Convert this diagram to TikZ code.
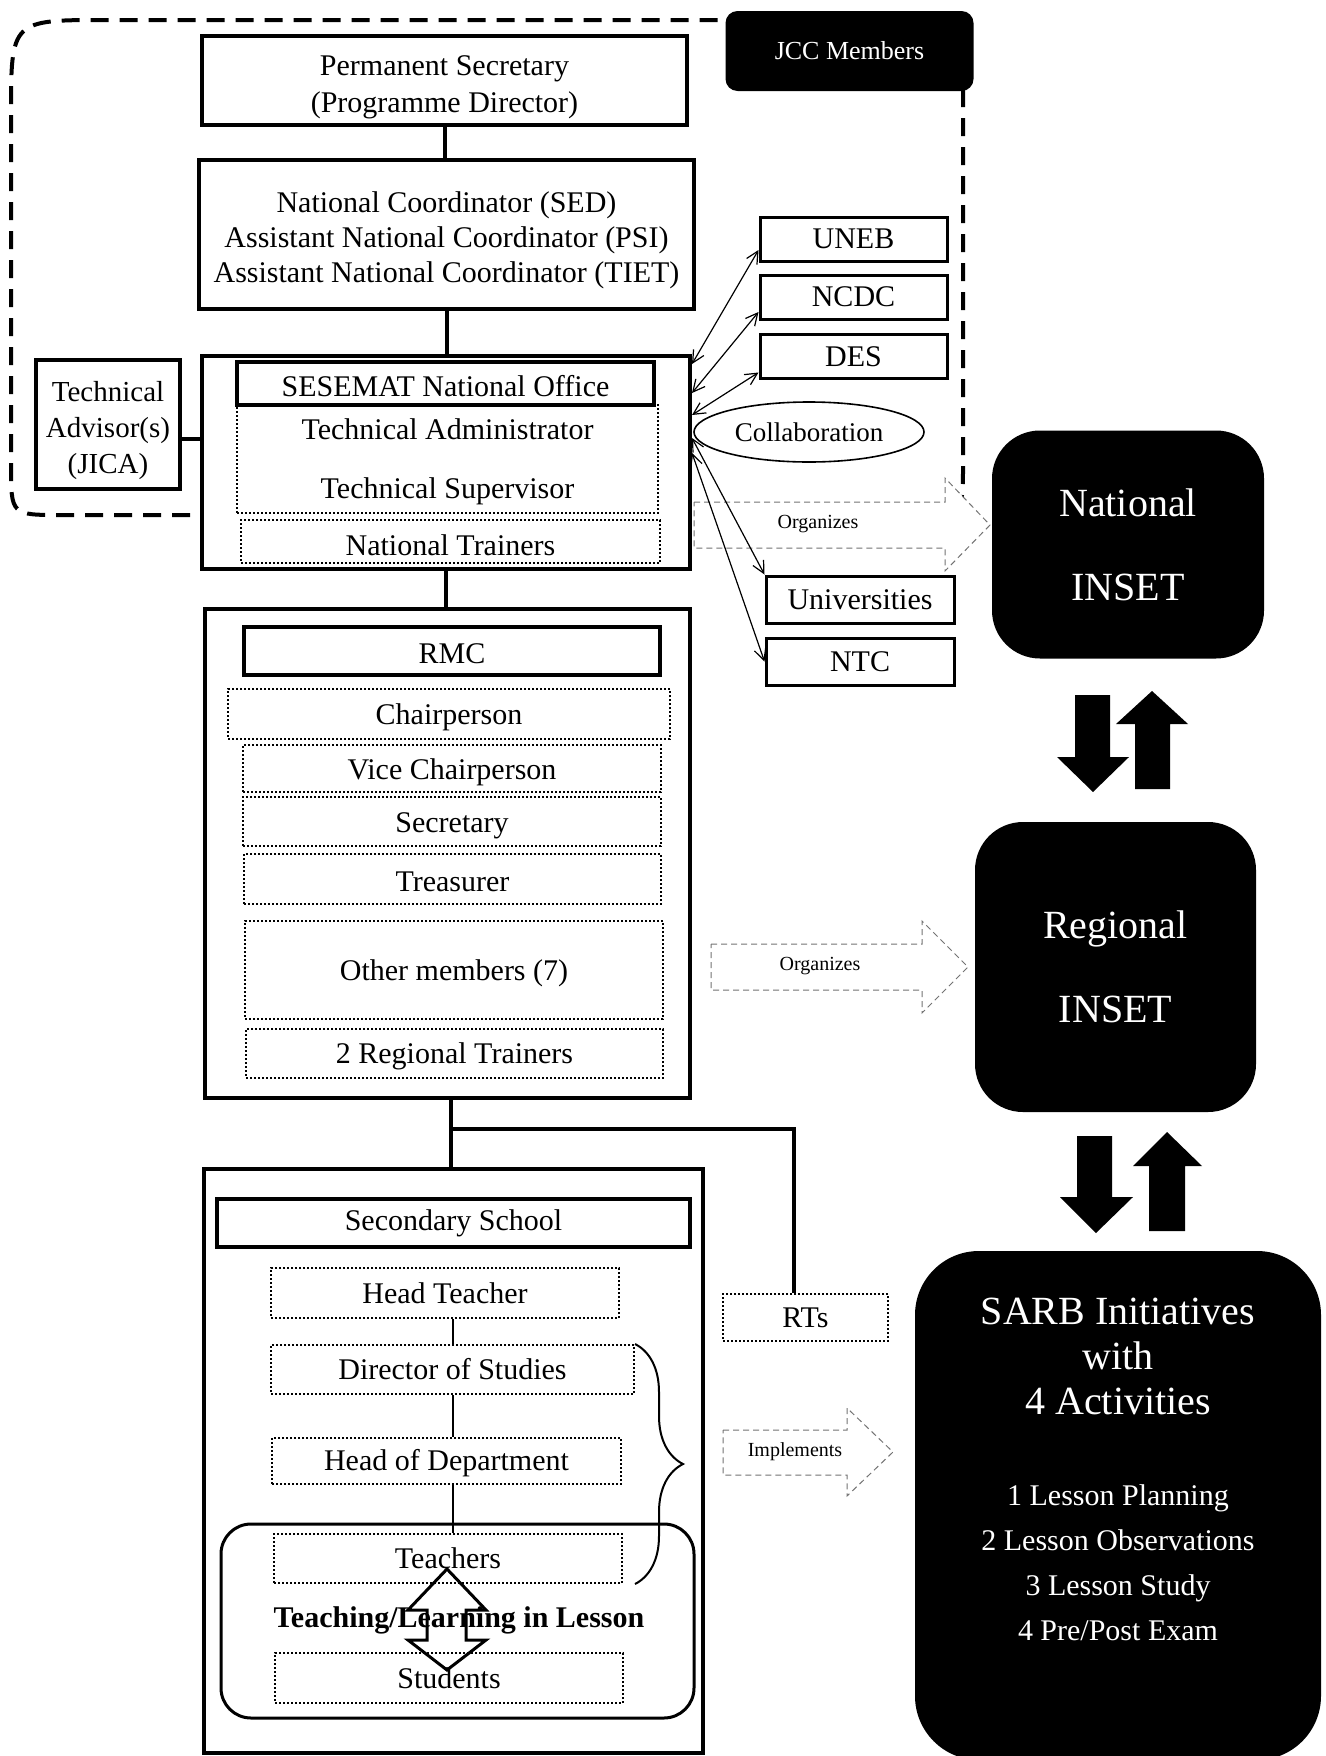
\documentclass[tikz,border=0pt]{standalone}
\usepackage{fontspec}
\setmainfont{Liberation Serif}
\usetikzlibrary{arrows.meta,shapes.geometric,decorations.pathreplacing}
\newcommand{\boxfont}{\fontsize{15pt}{17.5pt}\selectfont}
\newcommand{\notefont}{\fontsize{10pt}{12pt}\selectfont}
\newcommand{\insetfont}{\fontsize{20pt}{22.5pt}\selectfont}
\newcommand{\lift}[1]{\rule{0pt}{#1}}
\tikzset{
  frame/.style={draw,line width=2pt,fill=white,inner sep=0pt},
  hbox/.style={draw,line width=2pt,fill=white,inner sep=0pt,align=center,font=\boxfont},
  dbox/.style={draw,densely dotted,line width=1pt,inner sep=0pt,align=center,font=\boxfont},
  obox/.style={draw,line width=1.5pt,fill=white,inner sep=0pt,align=center,font=\boxfont},
  inset/.style={fill=black,text=white,rounded corners=24pt,inner sep=0pt,align=center,font=\insetfont},
  link/.style={line width=2pt},
  thinlink/.style={line width=1pt},
  collab/.style={{Straight Barb[length=6pt,width=6pt]}-{Straight Barb[length=6pt,width=6pt]},line width=0.6pt},
  hollow/.style={draw=black!55,densely dashed,line width=0.5pt,fill=white},
  solidarr/.style={fill=black},
  jccline/.style={line width=2pt,dash pattern=on 9pt off 5.5pt},
  note/.style={font=\notefont,inner sep=0pt},
}

\begin{document}
\begin{tikzpicture}[x=0.5pt,y=-0.5pt]
  \useasboundingbox (0,0) rectangle (1326,1756);
  \draw[jccline] (963,60) -- (963,465) .. controls (963,515) .. (913,515) -- (61,515)
    .. controls (11,515) .. (11,465) -- (11,115) .. controls (11,20) .. (106,20) -- (726,20);
  \node[fill=black,text=white,rounded corners=6pt,minimum width=124pt,minimum height=40pt,
    font=\fontsize{13pt}{15pt}\selectfont] (jcc) at (849.5,51) {JCC Members};

  \node[hbox,minimum width=242.5pt,minimum height=44.5pt,font=\fontsize{15pt}{18.5pt}\selectfont] (ps) at (444.5,80.5) {\lift{17pt}Permanent Secretary\\(Programme Director)};
  \node[hbox,minimum width=247.5pt,minimum height=74.5pt] (nc) at (446.5,234.5) {\lift{16.3pt}National Coordinator (SED)\\Assistant National Coordinator (PSI)\\Assistant National Coordinator (TIET)};
  \node[frame,minimum width=244pt,minimum height=106.5pt] (seso) at (446,462.5) {};
  \node[hbox,minimum width=208.5pt,minimum height=21.5pt] (sesoff) at (445.5,383.5) {\lift{13.6pt}SESEMAT National Office};
  \node[dbox,minimum width=210.5pt,minimum height=54pt] (tadm) at (447.5,459) {\lift{13.6pt}Technical Administrator\\[12pt]Technical Supervisor};
  \node[dbox,minimum width=209.5pt,minimum height=21.5pt] (ntr) at (450.5,541.5) {\lift{14.5pt}National Trainers};
  \node[hbox,minimum width=72pt,minimum height=64.5pt,font=\fontsize{14.5pt}{18pt}\selectfont] (tadv) at (108,424) {\lift{16.9pt}Technical\\Advisor(s)\\(JICA)};

  \node[obox,minimum width=93.5pt,minimum height=22pt] (uneb) at (853.5,239) {UNEB};
  \node[obox,minimum width=93.5pt,minimum height=22pt] (ncdc) at (853.5,297) {NCDC};
  \node[obox,minimum width=93.5pt,minimum height=22pt] (des) at (853.5,356.5) {DES};
  \node[draw,ellipse,line width=0.8pt,inner sep=0pt,minimum width=115pt,minimum height=30pt,
    font=\fontsize{13.5pt}{16pt}\selectfont] (collab) at (809,432) {Collaboration};
  \node[obox,minimum width=94pt,minimum height=23.5pt] (univ) at (860,599.5) {Universities};
  \node[obox,minimum width=94pt,minimum height=23.5pt] (ntc) at (860,661.5) {NTC};

  \draw[hollow] (694,502) -- (945,502) -- (945,478) -- (990,525) -- (945,571) -- (945,548) -- (694,548) -- cycle;
  \node[note] (orgnat) at (818,524) {Organizes};

  \draw[collab] ([yshift=-5pt]seso.north east) -- ([yshift=-5.5pt]uneb.west);
  \draw[collab] ([yshift=-19.5pt]seso.north east) -- ([yshift=-7.5pt]ncdc.west);
  \draw[collab] ([yshift=-30.5pt]seso.north east) -- ([yshift=-8pt]des.west);
  \draw[collab] ([yshift=-42pt]seso.north east) -- (univ.north west);
  \draw[collab] ([yshift=-49.5pt]seso.north east) -- (ntc.west);

  \node[inset,minimum width=136pt,minimum height=114pt] (natinset) at (1128,544.5) {National\\[19.5pt]INSET};
  \node[inset,minimum width=140.5pt,minimum height=145pt] (reginset) at (1115.5,967) {Regional\\[19.5pt]INSET};
  \node[inset,rounded corners=32pt,minimum width=203pt,minimum height=254.5pt] (sarb) at (1118,1505.5) {};
  \node[text=white,align=center,font=\insetfont,inner sep=0pt] (sarbtitle) at (1118,1356.5) {SARB Initiatives\\with\\4 Activities};
  \node[text=white,align=center,font=\fontsize{15pt}{22.5pt}\selectfont,inner sep=0pt] (sarbacts) at (1118,1562.5) {1 Lesson Planning\\2 Lesson Observations\\3 Lesson Study\\4 Pre/Post Exam};

  \fill[solidarr] (1075,695) -- (1110,695) -- (1110,757) -- (1129,757) -- (1093,792) -- (1057,757) -- (1075,757) -- cycle;
  \fill[solidarr] (1135,789) -- (1170,789) -- (1170,724) -- (1188,724) -- (1152,691) -- (1116,724) -- (1135,724) -- cycle;
  \fill[solidarr] (1077,1136) -- (1112,1136) -- (1112,1197) -- (1133,1197) -- (1096,1233) -- (1060,1197) -- (1077,1197) -- cycle;
  \fill[solidarr] (1149,1231) -- (1185,1231) -- (1185,1166) -- (1202,1166) -- (1167,1132) -- (1133,1166) -- (1149,1166) -- cycle;

  \node[frame,minimum width=242.5pt,minimum height=244.5pt] (rmc) at (447.5,853.5) {};
  \node[hbox,minimum width=208pt,minimum height=24pt] (rmchead) at (452,651) {\lift{12.5pt}RMC};
  \node[dbox,minimum width=221pt,minimum height=25pt] (chair) at (449,714) {\lift{13.6pt}Chairperson};
  \node[dbox,minimum width=209pt,minimum height=23.5pt] (vice) at (452,768.5) {\lift{14.5pt}Vice Chairperson};
  \node[dbox,minimum width=209pt,minimum height=24.5pt] (secr) at (452,821.5) {\lift{14.5pt}Secretary};
  \node[dbox,minimum width=208.5pt,minimum height=25pt] (treas) at (452.5,879) {\lift{12.5pt}Treasurer};
  \node[dbox,minimum width=209pt,minimum height=49pt] (others) at (454,970) {\lift{13.6pt}Other members (7)};
  \node[dbox,minimum width=208.5pt,minimum height=24.5pt] (rtrain) at (454.5,1053.5) {\lift{13.6pt}2 Regional Trainers};

  \draw[hollow] (711,944) -- (922,944) -- (922,921) -- (968,967) -- (922,1013) -- (922,990) -- (711,990) -- cycle;
  \node[note] (orgreg) at (820,966) {Organizes};

  \node[frame,minimum width=249.5pt,minimum height=292pt] (school) at (453.5,1461) {};
  \node[hbox,minimum width=236.5pt,minimum height=24pt] (sshead) at (453.5,1223) {Secondary School};
  \node[dbox,minimum width=174pt,minimum height=25pt] (htea) at (445,1293) {Head Teacher};
  \node[dbox,minimum width=181.5pt,minimum height=24.5pt] (dos) at (452.5,1369.5) {Director of Studies};
  \node[dbox,minimum width=174.5pt,minimum height=23pt] (hod) at (446.5,1461) {\lift{12.5pt}Head of Department};
  \node[draw,line width=1.5pt,rounded corners=15pt,minimum width=236.5pt,minimum height=97pt] (lesson) at (457.5,1621) {};
  \node[dbox,minimum width=174pt,minimum height=24.5pt] (tea) at (448,1558.5) {Teachers};
  \node[dbox,minimum width=174pt,minimum height=25pt] (stu) at (449,1678) {Students};
  \node[font=\boxfont\bfseries,inner sep=0pt] (tl) at (459,1620) {Teaching/Learning in Lesson};
  \node[dbox,minimum width=82.5pt,minimum height=23.5pt] (rts) at (805.5,1317.5) {RTs};

  \draw[hollow] (723,1430) -- (847,1430) -- (847,1408) -- (893,1452) -- (847,1496) -- (847,1475) -- (723,1475) -- cycle;
  \node[note] (impl) at (795,1452) {Implements};

  \draw[link] (ps.south) -- (ps.south |- nc.north);
  \draw[link] (nc.south) -- (nc.south |- seso.north);
  \draw[link] ([yshift=-7.5pt]tadv.east) -- ([yshift=-7.5pt]tadv.east -| seso.west);
  \draw[link] (seso.south) -- (seso.south |- rmc.north);
  \coordinate (split) at (451,1129);
  \draw[link] (split |- rmc.south) -- (split |- school.north);
  \draw[link] (split) -| ([xshift=-6pt]rts.north);
  \draw[thinlink] (dos.north |- htea.south) -- (dos.north);
  \draw[thinlink] (dos.south) -- (dos.south |- hod.north);
  \draw[thinlink] (hod.south -| dos.south) -- (tea.north -| dos.south);
  \draw[thinlink,decorate,decoration={brace,amplitude=24pt}] (dos.north east) -- (dos.north east |- tea.south);

  \draw[line width=1.5pt] (447,1569) -- (486,1610) -- (466,1610) -- (466,1640) -- (486,1640) -- (447,1670)
    -- (408,1640) -- (427,1640) -- (427,1610) -- (408,1610) -- cycle;
\end{tikzpicture}
\end{document}
